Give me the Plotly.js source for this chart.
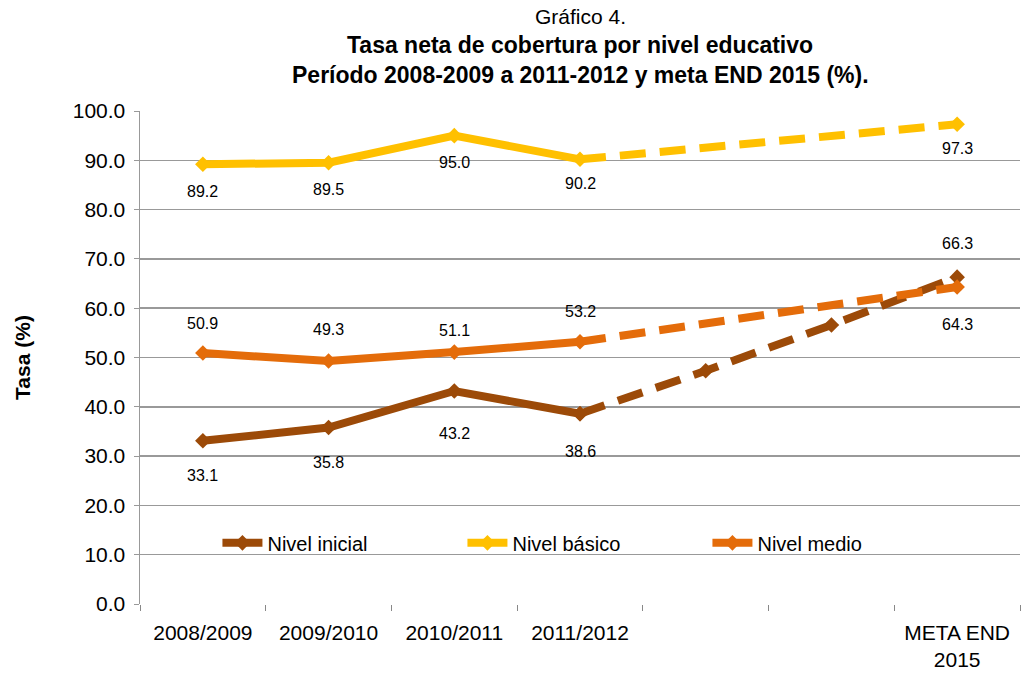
<!DOCTYPE html>
<html><head><meta charset="utf-8">
<script src="https://cdn.plot.ly/plotly-3.0.1.min.js"></script>
<style>html,body{margin:0;padding:0;background:#fff}#chart{width:1023px;height:675px}</style>
</head><body><div id="chart"></div>
<script>
const categories = ['2008/2009','2009/2010','2010/2011','2011/2012',' ','  ','META END<br>2015'];
// observed values (first four periods)
const inicial = [33.1, 35.8, 43.2, 38.6];
const basico  = [89.2, 89.5, 95.0, 90.2];
const medio   = [50.9, 49.3, 51.1, 53.2];
// projected path to 2015 target
const inicialProj = [38.6, 47.3, 56.6, 66.3];
const basicoProj  = [90.2, null, null, 97.3];
const medioProj   = [53.2, null, null, 64.3];
const labelsInicial = ['33.1','35.8','43.2','38.6','66.3'];
const labelsBasico  = ['89.2','89.5','95.0','90.2','97.3'];
const labelsMedio   = ['50.9','49.3','51.1','53.2','64.3'];
const titleLines = ['Gráfico 4.', '<b>Tasa neta de cobertura por nivel educativo</b>', '<b>Período 2008-2009 a 2011-2012 y meta END 2015 (%).</b>'];

const cInicial = '#9C4A08', cBasico = '#FFC000', cMedio = '#E46C0A';
const font = 'Liberation Sans, Arial, sans-serif';
const obsX = categories.slice(0,4);
const projX = categories.slice(3);

function solid(name, y, color){
  return {x: obsX, y: y, name: name, type:'scatter', mode:'lines+markers',
    line:{color:color, width:8}, marker:{symbol:'diamond', size:12, color:color},
    showlegend:true};
}
function dashed(y, color, markers){
  return {x: projX, y: y, type:'scatter', mode: markers ? 'lines+markers' : 'lines',
    connectgaps:true, line:{color:color, width:8, dash:'26px,14px'},
    marker:{symbol:'diamond', size:12, color:color}, showlegend:false, hoverinfo:'skip'};
}
const traces = [
  dashed(inicialProj, cInicial, true),
  dashed(basicoProj, cBasico, false),
  dashed(medioProj, cMedio, false),
  solid('Nivel inicial', inicial, cInicial),
  solid('Nivel básico', basico, cBasico),
  solid('Nivel medio', medio, cMedio),
];
traces.push({x:[categories[6]], y:[basicoProj[3]], mode:'markers', type:'scatter', marker:{symbol:'diamond',size:12,color:cBasico}, showlegend:false});
traces.push({x:[categories[6]], y:[medioProj[3]], mode:'markers', type:'scatter', marker:{symbol:'diamond',size:12,color:cMedio}, showlegend:false});

const annotations = [];
function lab(xs, ys, texts, shifts){
  xs.forEach((x,i)=>annotations.push({x:x, y:ys[i], text:texts[i], showarrow:false,
    yshift:shifts[i], font:{family:font, size:16, color:'#000'}}));
}
const allX = obsX.concat([categories[6]]);
lab(allX, inicial.concat([inicialProj[3]]), labelsInicial, [-35,-35,-42,-38,34]);
lab(allX, basico.concat([basicoProj[3]]), labelsBasico, [-27,-27,-27,-24,-24]);
lab(allX, medio.concat([medioProj[3]]), labelsMedio, [30,31,22,30,-37]);
const titleY = [1.1907, 1.1339, 1.073];
titleLines.forEach((t,i)=>annotations.push({xref:'paper', yref:'paper', x:0.5, y:titleY[i],
  text:t, showarrow:false, xanchor:'center', yanchor:'middle',
  font:{family:font, size:i===0?21:23, color:'#000'}}));

const layout = {
  width:1023, height:675,
  margin:{l:140, r:3, t:111, b:71},
  paper_bgcolor:'#fff', plot_bgcolor:'#fff',
  font:{family:font, color:'#000'},
  xaxis:{type:'category', categoryorder:'array', categoryarray:categories,
    range:[-0.5,6.5], showgrid:false, zeroline:false, showline:false,
    ticks:'outside', tickson:'boundaries', ticklen:6, tickcolor:'#888',
    ticklabelstandoff:14,
    tickfont:{family:font, size:21, color:'#000'}},
  yaxis:{range:[0,100], dtick:10, tickformat:'.1f', showgrid:true, gridcolor:'#999', gridwidth:1.5,
    zeroline:false, showline:true, linecolor:'#999', linewidth:1.5,
    ticks:'outside', ticklen:5, tickcolor:'#999', ticklabelstandoff:4,
    tickfont:{family:font, size:21, color:'#000'},
    title:{text:'<b>Tasa (%)</b>', font:{family:font, size:21, color:'#000'}, standoff:36}},
  legend:{orientation:'h', x:0.088, y:0.124, xanchor:'left', yanchor:'middle',
    bgcolor:'rgba(255,255,255,0)', font:{family:font, size:20, color:'#000'},
    entrywidth:190, entrywidthmode:'pixels', itemwidth:40},
  annotations: annotations,
  showlegend:true
};
Plotly.newPlot('chart', traces, layout, {displayModeBar:false, staticPlot:true});
</script></body></html>
